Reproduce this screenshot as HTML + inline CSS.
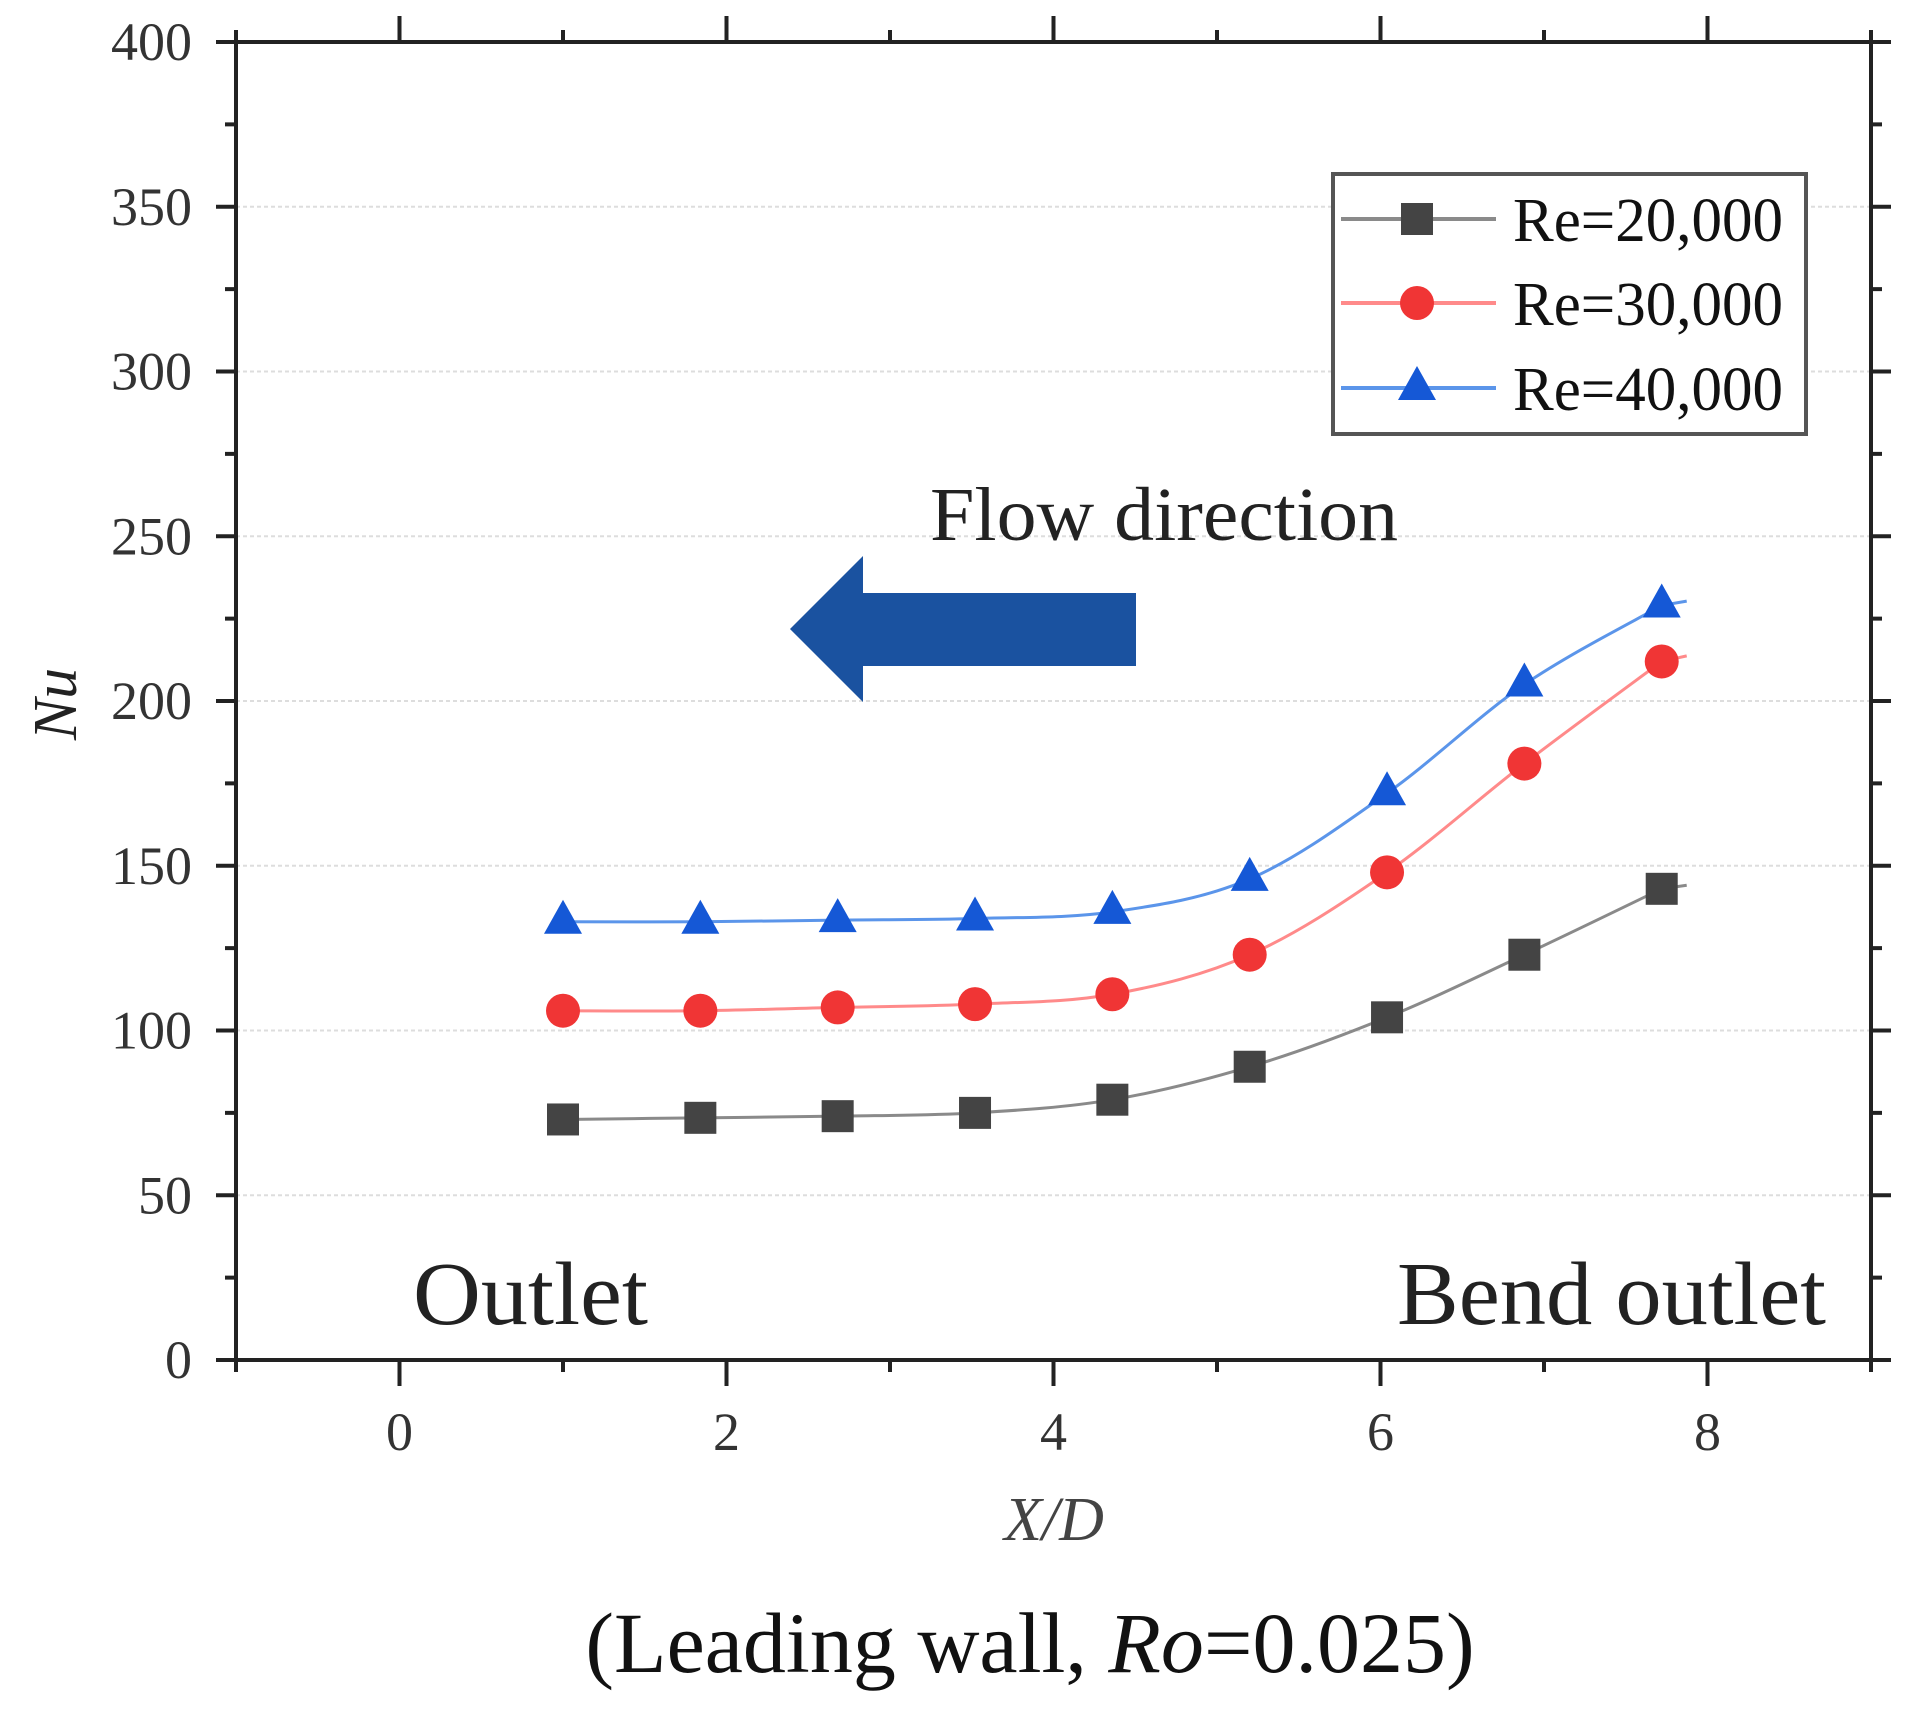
<!DOCTYPE html>
<html><head><meta charset="utf-8"><style>
html,body{margin:0;padding:0;background:#fff;}
svg{display:block;font-family:"Liberation Serif",serif;}
</style></head><body>
<svg id="chart" width="1906" height="1709" viewBox="0 0 1906 1709">
<g id="grid"></g>
<g id="series"></g>
<g id="axes"></g>
<g>
<text x="930" y="540" font-size="76" fill="#222" textLength="468" lengthAdjust="spacingAndGlyphs">Flow direction</text>
<polygon points="790,629 863,556 863,593 1136,593 1136,666 863,666 863,702" fill="#1a52a0"/>
</g>
<text x="413" y="1324" font-size="90" fill="#222" textLength="235" lengthAdjust="spacingAndGlyphs">Outlet</text>
<text x="1397" y="1324" font-size="90" fill="#222" textLength="429" lengthAdjust="spacingAndGlyphs">Bend outlet</text>
<text x="1054" y="1540" font-size="62" font-style="italic" fill="#444" text-anchor="middle">X/D</text>
<text transform="translate(76,704) rotate(-90)" font-size="62" font-style="italic" fill="#222" text-anchor="middle">Nu</text>
<text x="1030" y="1672" font-size="86" fill="#111" text-anchor="middle">(Leading wall, <tspan font-style="italic">Ro</tspan>=0.025)</text>
<g id="legend"></g>
</svg>
<script>
const xValues = [1.0, 1.84, 2.68, 3.52, 4.36, 5.2, 6.04, 6.88, 7.72];
const nu20000 = [73, 73.5, 74, 75, 79, 89, 104, 123, 143];
const nu30000 = [106, 106, 107, 108, 111, 123, 148, 181, 212];
const nu40000 = [133, 133, 133.5, 134, 136, 146, 172, 205, 229];
const seriesLabels = ["Re=20,000", "Re=30,000", "Re=40,000"];
const yTicks = [0, 50, 100, 150, 200, 250, 300, 350, 400];
const xTicks = [0, 2, 4, 6, 8];

const L=236, R=1871, T=42, B=1360;
const xMin=-1, xMax=9, yMin=0, yMax=400;
const sx = v => L + (v - xMin) / (xMax - xMin) * (R - L);
const sy = v => B - (v - yMin) / (yMax - yMin) * (B - T);
const NS = "http://www.w3.org/2000/svg";
function mk(tag, attrs, parent){ const e=document.createElementNS(NS,tag); for(const k in attrs) e.setAttribute(k,attrs[k]); parent.appendChild(e); return e; }

const grid=document.getElementById('grid');
const axes=document.getElementById('axes');
yTicks.forEach(t=>{
  if(t>0 && t<400){
    const g=mk('line',{x1:L,x2:R,y1:sy(t),y2:sy(t),stroke:'#ddd','stroke-width':2,'stroke-dasharray':'4 3'},grid);
    
    
  }
});
const fr=mk('rect',{x:L,y:T,width:R-L,height:B-T,fill:'none',stroke:'#222','stroke-width':4},axes);


for(let v=0; v<=400; v+=25){
  const len = v%50===0 ? 20 : 11;
  mk('line',{x1:L-len,x2:L,y1:sy(v),y2:sy(v),stroke:'#222','stroke-width':4},axes);
  mk('line',{x1:R,x2:R+len,y1:sy(v),y2:sy(v),stroke:'#222','stroke-width':4},axes);
}
yTicks.forEach(t=>{
  const tx=mk('text',{x:192,y:sy(t)+18,'font-size':54,fill:'#333','text-anchor':'end'},axes);
  tx.textContent=t;
  
  
});
for(let v=-1; v<=9; v+=1){
  const len = v%2===0 ? 26 : 12;
  mk('line',{x1:sx(v),x2:sx(v),y1:B,y2:B+len,stroke:'#222','stroke-width':4},axes);
  mk('line',{x1:sx(v),x2:sx(v),y1:T-len,y2:T,stroke:'#222','stroke-width':4},axes);
}
xTicks.forEach(t=>{
  const tx=mk('text',{x:sx(t),y:1450,'font-size':54,fill:'#333','text-anchor':'middle'},axes);
  tx.textContent=t;
  
  
});

function smoothPath(pts){
  let d=`M${pts[0][0]},${pts[0][1]}`;
  for(let i=0;i<pts.length-1;i++){
    const p0=pts[Math.max(i-1,0)],p1=pts[i],p2=pts[i+1],p3=pts[Math.min(i+2,pts.length-1)];
    const c1=[p1[0]+(p2[0]-p0[0])/6,p1[1]+(p2[1]-p0[1])/6];
    const c2=[p2[0]-(p3[0]-p1[0])/6,p2[1]-(p3[1]-p1[1])/6];
    d+=` C${c1[0]},${c1[1]} ${c2[0]},${c2[1]} ${p2[0]},${p2[1]}`;
  }
  return d;
}
function marker(kind,x,y,color,parent){
  let m;
  if(kind==='square') m=mk('rect',{x:x-16,y:y-16,width:32,height:32,fill:color},parent);
  else if(kind==='circle') m=mk('circle',{cx:x,cy:y,r:17,fill:color},parent);
  else m=mk('polygon',{points:`${x},${y-22} ${x+19},${y+12} ${x-19},${y+12}`,fill:color},parent);
  return m;
}
const ser=document.getElementById('series');
const defs=[
  {vals:nu20000,line:'#8a8a8a',fill:'#444',kind:'square',name:'re-20000'},
  {vals:nu30000,line:'#ff8a8a',fill:'#f03535',kind:'circle',name:'re-30000'},
  {vals:nu40000,line:'#5b95ea',fill:'#1558d6',kind:'triangle',name:'re-40000'}
];
defs.forEach(s=>{
  const g=mk('g',{},ser);
  
  
  const pts=xValues.map((x,i)=>[sx(x),sy(s.vals[i])]);
  const n=pts.length;
  const ext=[pts[n-1][0]+25,pts[n-1][1]+(pts[n-1][1]-pts[n-2][1])*25/(pts[n-1][0]-pts[n-2][0])*0.3];
  const p=mk('path',{d:smoothPath(pts)+` L${ext[0]},${ext[1]}`,fill:'none',stroke:s.line,'stroke-width':3},g);
  
  
  pts.forEach(pt=>{
    const m=marker(s.kind,pt[0],pt[1],s.fill,g);
    
    
  });
});
const lg=document.getElementById('legend');
const box=mk('rect',{x:1333,y:174,width:473,height:260,fill:'#fff',stroke:'#555','stroke-width':4},lg);


const ly=[219,303,388];
defs.forEach((s,i)=>{
  const g=mk('g',{},lg);
  
  
  mk('line',{x1:1341,x2:1496,y1:ly[i],y2:ly[i],stroke:s.line,'stroke-width':4},g);
  marker(s.kind,1417,ly[i],s.fill,g);
  const t=mk('text',{x:1513,y:ly[i]+22,'font-size':62,fill:'#111',textLength:270,lengthAdjust:'spacingAndGlyphs'},g);
  t.textContent=seriesLabels[i];
});
</script>
</body></html>
